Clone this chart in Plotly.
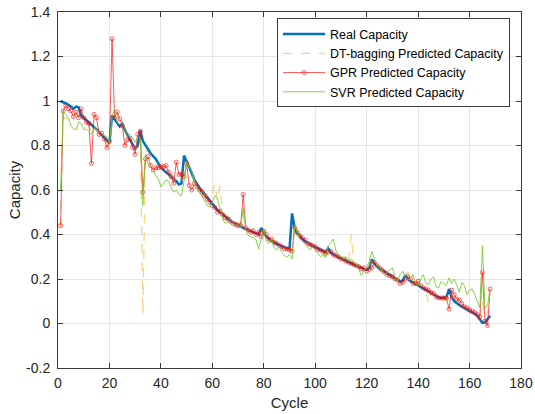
import plotly.graph_objects as go

cycles = list(range(1, 169))

real_capacity = [
    1.000, 0.995, 0.990, 0.984, 0.975, 0.965, 0.975, 0.972, 0.935, 0.925,
    0.915, 0.905, 0.895, 0.885, 0.872, 0.860, 0.848, 0.835, 0.822, 0.810,
    0.935, 0.918, 0.900, 0.885, 0.898, 0.870, 0.845, 0.825, 0.805, 0.785,
    0.800, 0.868, 0.820, 0.800, 0.785, 0.765, 0.752, 0.740, 0.720, 0.700,
    0.690, 0.680, 0.670, 0.660, 0.650, 0.640, 0.625, 0.630, 0.755, 0.730,
    0.705, 0.675, 0.645, 0.625, 0.610, 0.595, 0.580, 0.565, 0.550, 0.540,
    0.525, 0.510, 0.500, 0.490, 0.480, 0.470, 0.462, 0.455, 0.448, 0.442,
    0.436, 0.430, 0.425, 0.420, 0.415, 0.410, 0.405, 0.400, 0.430, 0.405,
    0.390, 0.380, 0.372, 0.365, 0.358, 0.352, 0.347, 0.343, 0.340, 0.335,
    0.495, 0.430, 0.405, 0.390, 0.380, 0.370, 0.362, 0.355, 0.349, 0.343,
    0.337, 0.331, 0.325, 0.320, 0.338, 0.320, 0.310, 0.305, 0.300, 0.294,
    0.288, 0.282, 0.276, 0.270, 0.265, 0.260, 0.255, 0.250, 0.245, 0.240,
    0.250, 0.288, 0.270, 0.258, 0.248, 0.240, 0.232, 0.225, 0.218, 0.211,
    0.204, 0.197, 0.190, 0.192, 0.217, 0.200, 0.190, 0.185, 0.178, 0.172,
    0.166, 0.160, 0.153, 0.146, 0.138, 0.130, 0.123, 0.118, 0.115, 0.115,
    0.118, 0.155, 0.120, 0.100, 0.090, 0.083, 0.076, 0.070, 0.063, 0.056,
    0.050, 0.043, 0.035, 0.020, 0.003, 0.005, 0.020, 0.035,
]

dt_bagging_pred = [
    0.43, 0.93, 0.92, 0.935, 0.93, 0.92, 0.94, 0.93, 0.92, 0.91,
    0.90, 0.89, 0.86, 0.89, 0.87, 0.86, 0.84, 0.83, 0.81, 0.80,
    0.90, 0.93, 0.91, 0.89, 0.88, 0.86, 0.84, 0.82, 0.80, 0.78,
    0.82, 0.84, 0.04, 0.78, 0.77, 0.75, 0.74, 0.72, 0.71, 0.70,
    0.69, 0.68, 0.67, 0.66, 0.65, 0.64, 0.63, 0.63, 0.70, 0.73,
    0.69, 0.66, 0.64, 0.62, 0.61, 0.60, 0.58, 0.57, 0.56, 0.58,
    0.63, 0.55, 0.62, 0.50, 0.49, 0.48, 0.475, 0.46, 0.45, 0.455,
    0.44, 0.50, 0.43, 0.42, 0.42, 0.43, 0.41, 0.40, 0.415, 0.42,
    0.41, 0.39, 0.40, 0.37, 0.36, 0.35, 0.345, 0.34, 0.33, 0.335,
    0.34, 0.44, 0.41, 0.395, 0.38, 0.37, 0.365, 0.35, 0.35, 0.34,
    0.335, 0.33, 0.32, 0.31, 0.33, 0.33, 0.31, 0.30, 0.305, 0.30,
    0.29, 0.285, 0.28, 0.40, 0.27, 0.265, 0.26, 0.25, 0.245, 0.24,
    0.26, 0.29, 0.275, 0.26, 0.25, 0.24, 0.235, 0.225, 0.22, 0.21,
    0.205, 0.20, 0.19, 0.20, 0.22, 0.23, 0.19, 0.185, 0.18, 0.175,
    0.17, 0.16, 0.155, 0.09, 0.14, 0.135, 0.12, 0.11, 0.11, 0.10,
    0.12, 0.15, 0.13, 0.115, 0.10, 0.09, 0.085, 0.075, 0.07, 0.06,
    0.055, 0.05, 0.04, 0.03, 0.10, 0.03, 0.04, 0.20,
]

gpr_pred = [
    0.44, 0.955, 0.98, 0.965, 0.955, 0.93, 0.95, 0.925, 0.965, 0.925,
    0.905, 0.90, 0.72, 0.94, 0.925, 0.85, 0.855, 0.83, 0.79, 0.82,
    1.28, 0.925, 0.95, 0.92, 0.89, 0.80, 0.825, 0.83, 0.79, 0.76,
    0.85, 0.865, 0.59, 0.74, 0.75, 0.71, 0.69, 0.70, 0.70, 0.705,
    0.705, 0.71, 0.68, 0.66, 0.63, 0.725, 0.67, 0.67, 0.66, 0.72,
    0.62, 0.60, 0.63, 0.615, 0.60, 0.59, 0.575, 0.56, 0.545, 0.53,
    0.52, 0.50, 0.505, 0.49, 0.475, 0.47, 0.46, 0.45, 0.445, 0.44,
    0.44, 0.58, 0.43, 0.42, 0.41, 0.415, 0.40, 0.41, 0.39, 0.415,
    0.40, 0.38, 0.375, 0.365, 0.36, 0.35, 0.345, 0.335, 0.335, 0.33,
    0.325, 0.43, 0.41, 0.395, 0.385, 0.375, 0.36, 0.355, 0.35, 0.345,
    0.335, 0.33, 0.325, 0.315, 0.32, 0.325, 0.31, 0.305, 0.30, 0.29,
    0.29, 0.28, 0.275, 0.27, 0.265, 0.26, 0.255, 0.245, 0.25, 0.235,
    0.245, 0.25, 0.275, 0.26, 0.25, 0.24, 0.23, 0.22, 0.215, 0.21,
    0.20, 0.195, 0.18, 0.185, 0.20, 0.21, 0.20, 0.18, 0.18, 0.19,
    0.17, 0.16, 0.155, 0.15, 0.14, 0.135, 0.12, 0.115, 0.115, 0.115,
    0.115, 0.065, 0.15, 0.13, 0.11, 0.105, 0.09, 0.075, 0.07, 0.06,
    0.055, 0.05, 0.04, 0.03, 0.23, 0.01, -0.01, 0.155,
]

svr_pred = [
    0.60, 0.955, 0.94, 0.925, 0.89, 0.875, 0.87, 0.905, 0.90, 0.87,
    0.875, 0.86, 0.85, 0.875, 0.87, 0.86, 0.85, 0.845, 0.84, 0.81,
    0.93, 0.965, 0.94, 0.91, 0.90, 0.875, 0.855, 0.85, 0.83, 0.815,
    0.84, 0.83, 0.53, 0.76, 0.72, 0.70, 0.69, 0.665, 0.65, 0.615,
    0.63, 0.645, 0.64, 0.61, 0.59, 0.60, 0.58, 0.575, 0.64, 0.72,
    0.70, 0.68, 0.64, 0.61, 0.59, 0.57, 0.55, 0.53, 0.525, 0.545,
    0.575, 0.56, 0.52, 0.47, 0.45, 0.455, 0.47, 0.455, 0.44, 0.445,
    0.43, 0.52, 0.42, 0.395, 0.39, 0.385, 0.375, 0.335, 0.38, 0.42,
    0.37, 0.36, 0.38, 0.34, 0.33, 0.345, 0.32, 0.305, 0.30, 0.31,
    0.29, 0.44, 0.41, 0.38, 0.37, 0.355, 0.34, 0.33, 0.345, 0.33,
    0.315, 0.30, 0.31, 0.295, 0.35, 0.36, 0.38, 0.33, 0.31, 0.30,
    0.29, 0.30, 0.28, 0.29, 0.275, 0.265, 0.24, 0.215, 0.24, 0.25,
    0.28, 0.325, 0.29, 0.26, 0.25, 0.24, 0.22, 0.23, 0.24, 0.25,
    0.21, 0.19, 0.22, 0.235, 0.21, 0.20, 0.195, 0.22, 0.18, 0.17,
    0.20, 0.22, 0.18, 0.175, 0.20, 0.21, 0.165, 0.16, 0.19, 0.18,
    0.17, 0.205, 0.18, 0.20, 0.175, 0.14, 0.185, 0.17, 0.13, 0.15,
    0.155, 0.13, 0.10, 0.07, 0.35, 0.07, 0.08, 0.15,
]

x_tick_vals = [0, 20, 40, 60, 80, 100, 120, 140, 160, 180]
x_tick_text = ["0", "20", "40", "60", "80", "100", "120", "140", "160", "180"]
y_tick_vals = [-0.2, 0, 0.2, 0.4, 0.6, 0.8, 1.0, 1.2, 1.4]
y_tick_text = ["-0.2", "0", "0.2", "0.4", "0.6", "0.8", "1", "1.2", "1.4"]

FONT = "Liberation Sans, Arial, sans-serif"

fig = go.Figure()
fig.add_trace(go.Scatter(
    x=cycles, y=real_capacity, mode="lines", name="Real Capacity",
    line=dict(color="#0072BD", width=2.5)))
fig.add_trace(go.Scatter(
    x=cycles, y=dt_bagging_pred, mode="lines", name="DT-bagging Predicted Capacity",
    line=dict(color="rgba(237,177,32,0.55)", width=1.3, dash="dash")))
fig.add_trace(go.Scatter(
    x=cycles, y=gpr_pred, mode="lines+markers", name="GPR Predicted Capacity",
    line=dict(color="rgba(255,0,0,0.65)", width=1),
    marker=dict(symbol="circle-open", size=4, color="rgba(255,0,0,0.6)",
                line=dict(width=1))))
fig.add_trace(go.Scatter(
    x=cycles, y=svr_pred, mode="lines", name="SVR Predicted Capacity",
    line=dict(color="rgba(110,205,40,0.85)", width=1)))

axis_common = dict(
    showline=True, linecolor="#3a3a3a", linewidth=1, mirror="ticks",
    ticks="inside", ticklen=5, tickcolor="#3a3a3a",
    showgrid=True, gridcolor="#E6E6E6", gridwidth=1, zeroline=False,
    automargin=False, ticklabeloverflow="allow",
    tickfont=dict(family=FONT, size=14, color="#262626"),
)

fig.update_xaxes(range=[0, 180], tickvals=x_tick_vals, ticktext=x_tick_text,
                 ticklabelstandoff=2,
                 title=dict(text="Cycle", standoff=7,
                            font=dict(family=FONT, size=15, color="#262626")),
                 **axis_common)
fig.update_yaxes(range=[-0.2, 1.4], tickvals=y_tick_vals, ticktext=y_tick_text,
                 ticklabelstandoff=4,
                 title=dict(text="Capacity", standoff=1,
                            font=dict(family=FONT, size=15, color="#262626")),
                 **axis_common)

fig.update_layout(
    width=535, height=414,
    margin=dict(l=58, r=14, t=12, b=46),
    paper_bgcolor="white", plot_bgcolor="white",
    showlegend=True,
    legend=dict(x=0.473, y=0.982, xanchor="left", yanchor="top",
                bgcolor="white", bordercolor="#3a3a3a", borderwidth=1,
                font=dict(family=FONT, size=12.5, color="#000000"),
                tracegroupgap=0, itemwidth=42),
)

# Remove the browser's default 8px body margin so the figure sits at (0, 0),
# and hide the hover toolbar.
fig.write_html("out.html",
               config={"displayModeBar": False},
               post_script="document.body.style.margin='0';")
